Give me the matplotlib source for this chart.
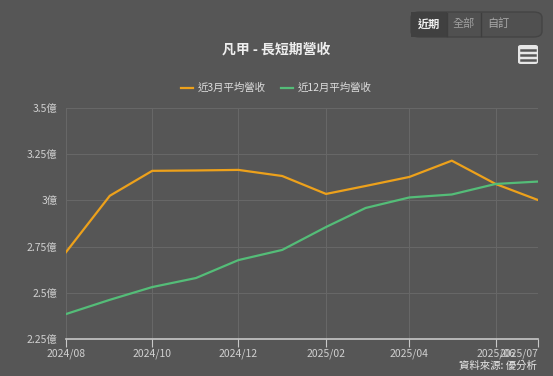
import pandas as pd
import matplotlib.pyplot as plt
import matplotlib.dates as mdates
from matplotlib.patches import FancyBboxPatch, Rectangle

plt.rcParams['font.family'] = ['Noto Sans CJK TC', 'DejaVu Sans']

# data (unit: 億)
months = ['2024-08', '2024-09', '2024-10', '2024-11', '2024-12', '2025-01',
          '2025-02', '2025-03', '2025-04', '2025-05', '2025-06', '2025-07']
avg3 = [2.72, 3.025, 3.16, 3.162, 3.165, 3.132, 3.035, 3.078, 3.127, 3.215, 3.089, 3.002]
avg12 = [2.385, 2.462, 2.531, 2.58, 2.677, 2.732, 2.856, 2.959, 3.016, 3.032, 3.089, 3.102]
tick_months = ['2024-08', '2024-10', '2024-12', '2025-02', '2025-04', '2025-06', '2025-07']
y_ticks = [2.25, 2.5, 2.75, 3.0, 3.25, 3.5]
y_labels = ['2.25億', '2.5億', '2.75億', '3億', '3.25億', '3.5億']

bg = '#565656'
dates = pd.to_datetime(months)

fig = plt.figure(figsize=(5.53, 3.76), dpi=100, facecolor=bg)
ax = fig.add_axes([66/553, 1 - 339/376, 472/553, 231/376], facecolor=bg)

ax.plot(dates, avg3, color='#eda11b', lw=1.6, label='近3月平均營收')
ax.plot(dates, avg12, color='#54bd78', lw=1.6, label='近12月平均營收')

ax.set_ylim(2.25, 3.5)
ax.set_xlim(dates[0], dates[-1])
ax.set_yticks(y_ticks)
ax.set_yticklabels(y_labels)
ticks = pd.to_datetime(tick_months)
ax.set_xticks(ticks)
ax.xaxis.set_major_formatter(mdates.DateFormatter('%Y/%m'))

ax.grid(True, color='#686868', lw=0.7)
for s in ['top', 'right', 'left']:
    ax.spines[s].set_visible(False)
ax.spines['bottom'].set_color('#c8c8c8')
ax.spines['bottom'].set_linewidth(1.2)
ax.tick_params(axis='y', length=0, colors='#d0d0d0', labelsize=7.5, pad=6)
ax.tick_params(axis='x', length=6, color='#c8c8c8', colors='#d0d0d0', labelsize=7.5, pad=1)
# last label is pushed inside the plot, as in the original
ax.get_xticklabels()[-1].set_ha('right')

fig.text(276/553, 1 - 50/376, '凡甲 - 長短期營收', ha='center', va='center',
         color='#eeeeee', fontsize=10, fontweight='bold')
leg = fig.legend(loc='center', bbox_to_anchor=(276/553, 1 - 88/376), ncol=2, frameon=False,
                 fontsize=7.5, labelcolor='#dddddd', handlelength=1.2, handletextpad=0.4,
                 columnspacing=1.5)
fig.text(537/553, 1 - 366/376, '資料來源: 優分析', ha='right', va='center',
         color='#e8e8e8', fontsize=7.5)

# range buttons
fig.patches.append(FancyBboxPatch((411/553, 1 - 37/376), 131/553, 25/376,
                                  boxstyle='round,pad=0,rounding_size=0.015',
                                  transform=fig.transFigure, fc='#505050', ec='#444444', lw=1))
fig.patches.append(Rectangle((411/553, 1 - 37/376), 36/553, 25/376,
                             transform=fig.transFigure, fc='#404040', ec='none'))
for x0 in [447, 481]:
    fig.lines.append(plt.Line2D([x0/553, x0/553], [1 - 36/376, 1 - 13/376],
                                transform=fig.transFigure, color='#3e3e3e', lw=1))
for label, xc, c in [('近期', 429, '#f0f0f0'), ('全部', 464, '#a0a0a0'), ('自訂', 498, '#a8a8a8')]:
    fig.text(xc/553, 1 - 24/376, label, ha='center', va='center',
             color=c, fontsize=8, fontweight='bold' if label == '近期' else 'normal')

# menu icon
fig.patches.append(FancyBboxPatch((518/553, 1 - 64/376), 20/553, 19/376,
                                  boxstyle='round,pad=0,rounding_size=0.005',
                                  transform=fig.transFigure, fc='#e6e6e6', ec='none'))
for yy in [49.5, 54.5, 59.5]:
    fig.lines.append(plt.Line2D([521/553, 535/553], [1 - yy/376, 1 - yy/376],
                                transform=fig.transFigure, color='#555555', lw=1.8))

fig.savefig('out.png', dpi=100, facecolor=bg)
